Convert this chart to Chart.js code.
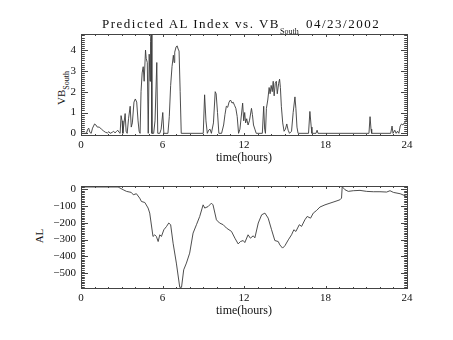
<!DOCTYPE html>
<html>
<head>
<meta charset="utf-8">
<script src="https://cdn.jsdelivr.net/npm/chart.js@4.4.0/dist/chart.umd.min.js"></script>
<style>
  body { margin: 0; width: 453px; height: 340px; overflow: hidden; position: relative; background: #fff;
         font-family: "Liberation Serif", serif; color: #111; }
  canvas { position: absolute; left: 0; }
  .title { position: absolute; top: 17px; font-size: 13px; line-height: 13px; letter-spacing: 1.5px; white-space: pre;
           transform: translateZ(0); }
  .sub { position: relative; top: 6px; font-size: 8px; letter-spacing: 0; }
  .ylab { position: absolute; width: 60px; height: 20px; line-height: 20px; font-size: 11px; text-align: center;
          transform: rotate(-90deg); white-space: nowrap; }
  .ylab .sub { top: 4px; font-size: 8px; }
</style>
</head>
<body>
<div class="title" style="left:102px">Predicted AL Index vs. VB<span class="sub">South</span></div>
<div class="title" style="left:306px">04/23/2002</div>
<div class="ylab" style="left:31px; top:78px">VB<span class="sub">South</span></div>
<div class="ylab" style="left:9px; top:226px">AL</div>
<canvas id="vb" width="453" height="170" style="top:0"></canvas>
<canvas id="al" width="453" height="170" style="top:170px"></canvas>
<script>
// southward IMF * solar wind speed, hours since 00 UT
const vbTime = [
  0.0, 0.4, 0.5, 0.57, 0.65, 0.75, 0.85, 1.0, 1.1, 1.2, 1.35, 1.5, 1.65, 1.8, 1.95, 2.05, 2.15, 2.3, 2.4, 2.5,
  2.6, 2.7, 2.8, 2.88, 2.95, 3.02, 3.08, 3.15, 3.25, 3.32, 3.4, 3.5, 3.62, 3.7, 3.78, 3.9, 4.0, 4.1, 4.2, 4.28,
  4.35, 4.42, 4.5, 4.58, 4.65, 4.75, 4.8, 4.88, 4.95, 5.02, 5.08, 5.12, 5.17, 5.22, 5.35, 5.45, 5.58, 5.65, 5.8, 5.9,
  6.02, 6.1, 6.4, 6.5, 6.6, 6.7, 6.8, 6.85, 6.9, 7.0, 7.08, 7.15, 7.22, 7.3, 7.38, 9.0, 9.1, 9.2, 9.3, 9.4,
  9.5, 9.6, 9.75, 9.88, 9.95, 10.05, 10.15, 10.35, 10.5, 10.6, 10.7, 10.8, 10.9, 11.0, 11.05, 11.12, 11.2, 11.3, 11.4, 11.5,
  11.6, 11.7, 11.9, 11.98, 12.05, 12.12, 12.2, 12.3, 12.4, 12.55, 12.62, 12.7, 12.8, 12.9, 13.35, 13.45, 13.52, 13.58, 13.65, 13.75,
  13.85, 13.92, 14.0, 14.08, 14.15, 14.22, 14.3, 14.38, 14.45, 14.55, 14.62, 14.68, 14.75, 14.85, 14.95, 15.05, 15.15, 15.25, 15.35, 15.5,
  15.62, 15.75, 15.82, 15.9, 15.98, 16.75, 16.85, 16.95, 17.0, 17.3, 17.38, 17.45, 21.2, 21.28, 21.35, 21.4, 22.8, 22.9, 22.97, 23.1,
  23.2, 23.3, 23.4, 23.5, 23.6, 23.7, 23.8, 23.9, 24.0
];
const vbValue = [
  0, 0, 0.2, 0.25, 0.05, 0, 0.25, 0.45, 0.4, 0.3, 0.3, 0.2, 0.12, 0.05, 0.02, 0.08, 0, 0.05, 0.1, 0.02,
  0.08, 0.15, 0.05, 0, 0.85, 0.6, 0, 0.4, 0.95, 0.1, 0, 0.7, 1.3, 0.3, 0.5, 1.5, 1.65, 1.5, 0.6, 0.1,
  0, 2.0, 2.9, 3.2, 2.5, 4.0, 3.6, 3.4, 0, 3.8, 2.5, 4.4, 5.0, 0, 0, 0.6, 3.4, 0, 0, 0.2,
  1.0, 0, 0, 0.8, 2.3, 3.2, 3.75, 3.4, 3.9, 4.15, 4.2, 4.05, 3.95, 2.0, 0, 0, 1.85, 0.6, 0, 0.15,
  0.2, 0, 0.5, 2.0, 1.9, 1.0, 0, 0, 0.4, 0.9, 1.3, 1.25, 1.5, 1.6, 1.55, 1.45, 1.5, 1.35, 1.2, 0.8,
  0, 0.2, 1.45, 0.6, 1.0, 0.5, 0.7, 0.4, 0.6, 1.2, 0.9, 0.4, 0.2, 0, 0, 1.3, 0.2, 0, 1.2, 1.6,
  2.2, 1.9, 2.3, 2.0, 2.5, 1.8, 2.4, 2.5, 1.9, 2.4, 2.6, 2.2, 1.3, 0.5, 0.1, 0.2, 0.45, 0.15, 0, 0.1,
  1.0, 1.75, 1.2, 0.3, 0, 0, 1.05, 0.3, 0, 0, 0.15, 0, 0, 0.8, 0.2, 0, 0, 0.35, 0, 0.15,
  0, 0.1, 0, 0.35, 0.45, 0.4, 0.5, 0.55, 0.75
];

// AL index (nT)
const alTime = [
  0.0, 2.73, 3.1, 3.35, 3.7, 3.85, 4.08, 4.32, 4.45, 4.7, 4.94, 5.06, 5.3, 5.43, 5.55, 5.68, 5.8, 5.92, 6.1, 6.3,
  6.46, 6.6, 6.78, 7.02, 7.27, 7.4, 7.56, 7.76, 8.0, 8.25, 8.5, 8.74, 8.99, 9.11, 9.36, 9.6, 9.72, 9.97, 10.2, 10.47,
  10.71, 11.08, 11.33, 11.57, 11.74, 11.94, 12.06, 12.3, 12.47, 12.68, 12.8, 13.05, 13.3, 13.54, 13.78, 14.03, 14.27, 14.52, 14.64, 14.84,
  15.01, 15.26, 15.5, 15.67, 15.82, 16.07, 16.24, 16.48, 16.65, 16.9, 17.1, 17.35, 17.59, 17.96, 18.33, 18.7, 19.06, 19.18, 19.23, 19.43,
  19.68, 20.05, 20.54, 21.03, 21.52, 22.01, 22.5, 22.75, 23.0, 23.5, 23.86, 24.0
];
const alValue = [
  12, 12, -4, -14, -20, -34, -28, -54, -74, -80, -113, -143, -282, -272, -282, -312, -272, -282, -242, -222,
  -202, -212, -322, -440, -584, -584, -480, -440, -381, -262, -212, -163, -94, -113, -104, -84, -94, -183, -202, -212,
  -232, -252, -292, -326, -312, -306, -318, -272, -292, -278, -290, -202, -153, -143, -173, -242, -306, -312, -332, -351,
  -337, -302, -272, -242, -252, -212, -222, -183, -163, -173, -143, -127, -107, -94, -84, -74, -64, -54, 14, -4,
  -14, -10, -8, -14, -16, -16, -18, -10, -20, -28, -40, -44
];

const hourTicks = [0, 6, 12, 18, 24];
const vbTicks = [0, 1, 2, 3, 4];
const alTicks = [0, -100, -200, -300, -400, -500];

Chart.defaults.font.family = "Liberation Serif";
Chart.defaults.font.size = 11;
Chart.defaults.color = "#111";

// box round the plot with IDL style inward ticks on all four sides
const idlFrame = {
  id: "idlFrame",
  afterDraw(chart, args, opts) {
    const ctx = chart.ctx;
    const a = chart.chartArea;
    const x = chart.scales.x;
    const y = chart.scales.y;
    const L = Math.round(a.left) + 0.5, R = Math.round(a.right) + 0.5;
    const T = Math.round(a.top) + 0.5, B = Math.round(a.bottom) + 0.5;
    ctx.save();
    ctx.strokeStyle = "#444";
    ctx.lineWidth = 1;
    ctx.strokeRect(L, T, R - L, B - T);
    ctx.beginPath();
    for (let i = 0; i <= 24; i++) {
      const px = Math.round(x.getPixelForValue(i)) + 0.5;
      const len = i % 6 === 0 ? 2.5 : 1.5;
      ctx.moveTo(px, B); ctx.lineTo(px, B - len);
      ctx.moveTo(px, T); ctx.lineTo(px, T + len);
    }
    const n0 = Math.ceil(y.min / opts.yMinor), n1 = Math.floor(y.max / opts.yMinor);
    for (let k = n0; k <= n1; k++) {
      const py = Math.round(y.getPixelForValue(k * opts.yMinor)) + 0.5;
      const len = k % opts.perMajor === 0 ? 6.5 : 3.3;
      ctx.moveTo(L, py); ctx.lineTo(L + len, py);
      ctx.moveTo(R, py); ctx.lineTo(R - len, py);
    }
    ctx.stroke();
    ctx.restore();
  }
};

function makePanel(id, times, values, yMin, yMax, yTicks, yMinor, perMajor, pad, fmt) {
  return new Chart(document.getElementById(id), {
    type: "scatter",
    data: {
      datasets: [{
        data: times.map((t, i) => ({ x: t, y: values[i] })),
        showLine: true,
        borderColor: "#3a3a3a",
        borderWidth: 0.9,
        pointRadius: 0,
        tension: 0
      }]
    },
    options: {
      responsive: false,
      animation: false,
      events: [],
      devicePixelRatio: 1,
      layout: { padding: pad },
      plugins: { legend: { display: false }, tooltip: { enabled: false }, idlFrame: { yMinor, perMajor } },
      scales: {
        x: {
          type: "linear", min: 0, max: 24,
          grid: { display: false, drawTicks: false },
          border: { display: false },
          afterBuildTicks: (s) => { s.ticks = hourTicks.map((v) => ({ value: v })); },
          afterFit: (s) => { s.height = 35; },
          ticks: { padding: 4, maxRotation: 0 },
          title: { display: true, text: "time(hours)", font: { size: 12 }, padding: { top: 0, bottom: 5 } }
        },
        y: {
          min: yMin, max: yMax,
          grid: { display: false, drawTicks: false },
          border: { display: false },
          afterBuildTicks: (s) => { s.ticks = yTicks.map((v) => ({ value: v })); },
          afterFit: (s) => { s.width = 40; },
          ticks: { padding: 5, callback: fmt }
        }
      }
    },
    plugins: [idlFrame]
  });
}

const minus = (v) => String(v).replace("-", "\u2212");

makePanel("vb", vbTime, vbValue, -0.08, 4.77, vbTicks, 0.1, 10,
  { left: 41, right: 46, top: 34, bottom: 0 }, minus);
makePanel("al", alTime, alValue, -588, 18, alTicks, 10, 10,
  { left: 41, right: 46, top: 16, bottom: 17 }, minus);
</script>
</body>
</html>
